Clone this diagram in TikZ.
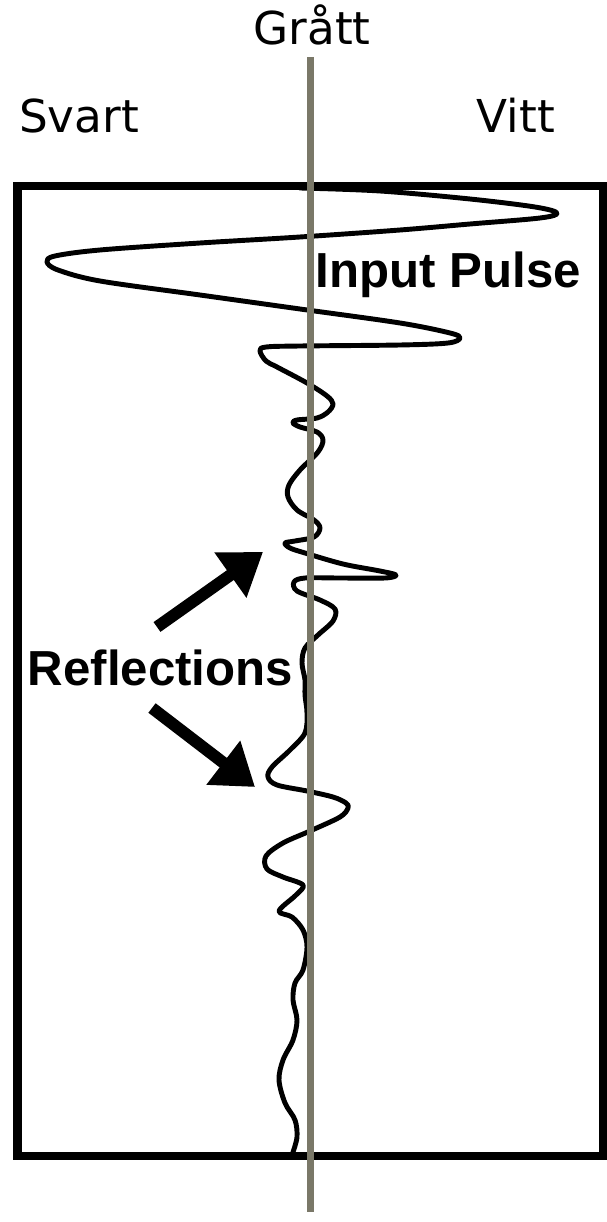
\documentclass[tikz,border=0pt]{standalone}
\usepackage{tikz}
\usetikzlibrary{arrows.meta}
\usepackage{xcolor}
\usepackage{fontspec}
\newfontfamily\capfont{DejaVu Sans}
\newfontfamily\tagfont{Liberation Sans}
\definecolor{ink}{HTML}{000000}
\definecolor{greyline}{RGB}{122,120,104}
\tikzset{
  toplbl/.style={font=\capfont\fontsize{25.8pt}{30pt}\selectfont,inner sep=0pt,
              anchor=base,text=ink},
  tag/.style={font=\tagfont\bfseries\fontsize{28pt}{32pt}\selectfont,
              inner sep=0pt,anchor=base,text=ink},
  frame/.style={draw=ink,line width=5.1pt},
  trace/.style={draw=ink,line width=2.8pt,line join=round,line cap=round},
  axis/.style={draw=greyline,line width=4pt},
  rarr/.style={-{Triangle[length=0.8cm,width=1.06cm]},line width=6.8pt,color=ink},
}

\begin{document}
\begin{tikzpicture}[x=0.02cm,y=-0.02cm]
  \useasboundingbox (0,0) rectangle (607,1222);

  % labels on top
  \node[toplbl] (grey)  at (312,45)  {Grått};
  \node[toplbl] (black) at (79,133)  {Svart};
  \node[toplbl] (white) at (516,133) {Vitt};

  % box
  \draw[frame] (17.5,186) rectangle (603.5,1156);

  % pulse and reflections
  \draw[trace] plot[smooth,tension=0.55] coordinates {
    (300,188) (380,191) (470,199) (535,207) (557,213) (540,218) (470,224)
    (400,230) (300,237) (200,243) (100,250) (55,256) (47,262) (58,270)
    (100,281) (200,295) (300,309) (400,323) (450,333) (460,338) (448,343)
    (400,345) (300,346) (266,347) (260,351) (266,361) (277,367) (307,383)
    (327,396) (333,404) (328,412) (317,418) (297,420) (293,423) (300,427)
    (317,432) (323,440) (318,452) (300,470) (289,485) (288,497) (297,510)
    (314,520) (320,528) (314,537) (295,541) (285,543) (290,548) (305,553)
    (343,564) (380,571) (396,575) (385,578) (340,578) (305,578) (294,582)
    (297,591) (320,600) (335,609) (333,621) (318,635) (305,648) (302,663)
    (305,680) (305,695) (307,713) (305,733) (290,750) (272,767) (268,777)
    (277,785) (307,791) (333,797) (346,803) (348,808) (340,817) (310,831)
    (283,843) (266,856) (267,869) (283,877) (303,885) (296,895) (279,911)
    (292,917) (303,930) (307,947) (303,970) (295,983) (293,1000) (297,1020)
    (293,1040) (283,1060) (279,1080) (285,1103) (295,1120) (297,1137)
    (293,1152)};

  \node[tag] (pulse) at (448.5,288) {Input Pulse};
  \node[tag] (refl)  at (160.5,685) {Reflections};

  % arrows from the label to the echoes
  \coordinate (uptail) at (157,627);
  \coordinate (uptip)  at (263,552);
  \coordinate (dntail) at (152,708);
  \coordinate (dntip)  at (255,787);
  \draw[rarr] (uptail) -- (uptip);
  \draw[rarr] (dntail) -- (dntip);

  % grey middle line
  \coordinate (gtop) at (310.5,57);
  \coordinate (gbot) at (310.5,1212);
  \draw[axis] (gtop) -- (gbot);
\end{tikzpicture}
\end{document}
